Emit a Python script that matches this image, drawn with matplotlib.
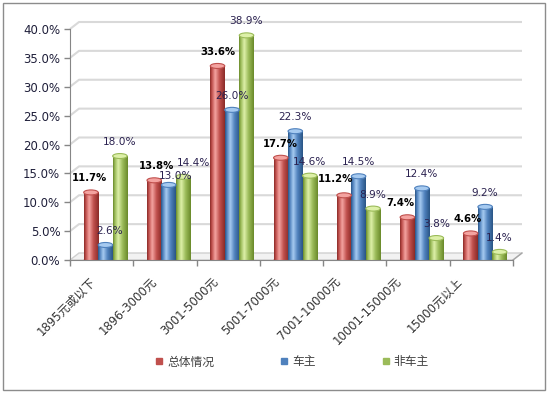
import matplotlib
matplotlib.use("Agg")
import matplotlib.pyplot as plt
import numpy as np
from matplotlib.patches import Rectangle, Ellipse, Polygon
from matplotlib.colors import LinearSegmentedColormap
from matplotlib.lines import Line2D
from matplotlib import transforms

plt.rcParams['font.family'] = ['DejaVu Sans', 'Noto Sans CJK SC']

categories = ['1895元或以下', '1896-3000元', '3001-5000元', '5001-7000元',
              '7001-10000元', '10001-15000元', '15000元以上']
series_names = ['总体情况', '车主', '非车主']
overall = [11.7, 13.8, 33.6, 17.7, 11.2, 7.4, 4.6]
owners = [2.6, 13.0, 26.0, 22.3, 14.5, 12.4, 9.2]
non_owners = [18.0, 14.4, 38.9, 14.6, 8.9, 3.8, 1.4]
yticks = [0, 5, 10, 15, 20, 25, 30, 35, 40]

series = [overall, owners, non_owners]
palettes = [
    ('#8A2A27', '#C0504D', '#F4A3A0'),
    ('#2A5585', '#4F81BD', '#A6CAF0'),
    ('#6A8A2A', '#9BBB59', '#DDF0A8'),
]
legend_colors = ['#C0504D', '#4F81BD', '#9BBB59']
label_colors = ['black', '#2B2250', '#2B2250']
# small manual nudges (pixels) for crowded labels: (series, category) -> (dx, dy)
nudges = {(0, 0): (-2, 0), (1, 0): (4, 0), (0, 1): (2, 0), (1, 1): (7, -5),
          (2, 1): (10, 0), (0, 4): (-9, 2), (0, 5): (-7, 0), (0, 6): (-3, 0)}

W, H = 548, 393
fig = plt.figure(figsize=(W / 100, H / 100), dpi=100)
fig.patch.set_facecolor('white')
fig.patches.append(Rectangle((3 / W, 3 / H), 542 / W, 387 / H, transform=fig.transFigure,
                             fill=False, edgecolor='#8C8C8C', lw=1.0))

ax_l, ax_r, ax_t, ax_b = 70, 513, 29, 260
ax = fig.add_axes([ax_l / W, 1 - ax_b / H, (ax_r - ax_l) / W, (ax_b - ax_t) / H])
n = len(categories)
ax.set_xlim(0, n)
ax.set_ylim(0, 40)
ax.set_facecolor('none')

px_x = n / (ax_r - ax_l)     # data units per pixel (x)
px_y = 40 / (ax_b - ax_t)    # data units per pixel (y)
dx, dy = 9 * px_x, 7 * px_y

# floor
floor = Polygon([(0, 0), (n, 0), (n + dx, dy), (dx, dy)], closed=True,
                facecolor='#F2F2F2', edgecolor='#D0D0D0', lw=1.0, clip_on=False, zorder=0)
ax.add_patch(floor)
# back wall gridlines
for v in yticks[1:]:
    ax.plot([0, dx, n + dx], [v, v + dy, v + dy], color='#D9D9D9', lw=1.5,
            clip_on=False, zorder=0.5, solid_capstyle='butt')
ax.plot([n, n + dx], [0, dy], color='#A6A6A6', lw=1.0, clip_on=False, zorder=0.6)

# axes
for s in ['top', 'right']:
    ax.spines[s].set_visible(False)
ax.spines['left'].set_color('#868686')
ax.spines['bottom'].set_color('#868686')
ax.set_yticks(yticks)
ax.set_yticklabels([f'{v:.1f}%' for v in yticks])
ax.tick_params(axis='y', length=4, width=1, color='#868686', pad=3,
               labelsize=8.5, labelcolor='#1F1F3A', direction='out')
ax.set_xticks(np.arange(0, n + 1), minor=True)
ax.set_xticks([])
ax.tick_params(axis='x', which='minor', length=4, width=1, color='#868686', direction='out')

# bars (cylinders)
bw = 0.229
shift = 0.06
cap_h = 5 * px_y
xs = np.arange(n) + 0.5 + shift
grad = np.linspace(0, 1, 64).reshape(1, -1)
for k, (vals, pal) in enumerate(zip(series, palettes)):
    dark, mid, light = pal
    cmap = LinearSegmentedColormap.from_list(
        f'c{k}', [(0, dark), (0.12, mid), (0.35, light), (0.65, mid), (1, dark)])
    pos = xs + (k - 1) * bw
    bars = ax.bar(pos, vals, width=bw, color=mid, edgecolor='none', zorder=2)
    for b, v in zip(bars, vals):
        x0 = b.get_x()
        w = b.get_width()
        e_bot = Ellipse((x0 + w / 2, 0), w, cap_h, facecolor=mid, edgecolor='none', zorder=1.9)
        ax.add_patch(e_bot)
        im = ax.imshow(grad, cmap=cmap, extent=[x0, x0 + w, 0, v], aspect='auto',
                       zorder=2.1, interpolation='bilinear')
        im.set_clip_path(b)
        e_top = Ellipse((x0 + w / 2, v), w, cap_h, facecolor=light, edgecolor=mid,
                        lw=0.8, zorder=2.2)
        ax.add_patch(e_top)
    for i, (p, v) in enumerate(zip(pos, vals)):
        ndx, ndy = nudges.get((k, i), (0, 0))
        ax.annotate(f'{v:.1f}%', xy=(p, v), xytext=(ndx, 14 + ndy),
                    textcoords='offset pixels', ha='center', va='center',
                    fontsize=7.6 if k else 7.3, fontweight='bold' if k == 0 else 'normal',
                    color=label_colors[k], zorder=5)

ax.set_xlim(0, n)
ax.set_ylim(0, 40)

# category labels
for i, c in enumerate(categories):
    off = transforms.ScaledTranslation((-8 - 2.2 * i) / 100, -19 / 100, fig.dpi_scale_trans)
    ax.text(i + 0.5, 0, c, transform=ax.get_xaxis_transform() + off, rotation=45,
            rotation_mode='anchor', ha='right', va='center', fontsize=8.5, color='#333333')

# legend
handles = [Line2D([], [], marker='s', linestyle='none', markersize=5,
                  markerfacecolor=c, markeredgecolor=c) for c in legend_colors]
fig.legend(handles, series_names, loc='center', ncol=3, frameon=False,
           bbox_to_anchor=(292 / W, 1 - 362 / H), fontsize=8.5, handlelength=0.7,
           handletextpad=0.3, columnspacing=5.6, labelcolor='#404040')

fig.savefig('out.png', dpi=100)
